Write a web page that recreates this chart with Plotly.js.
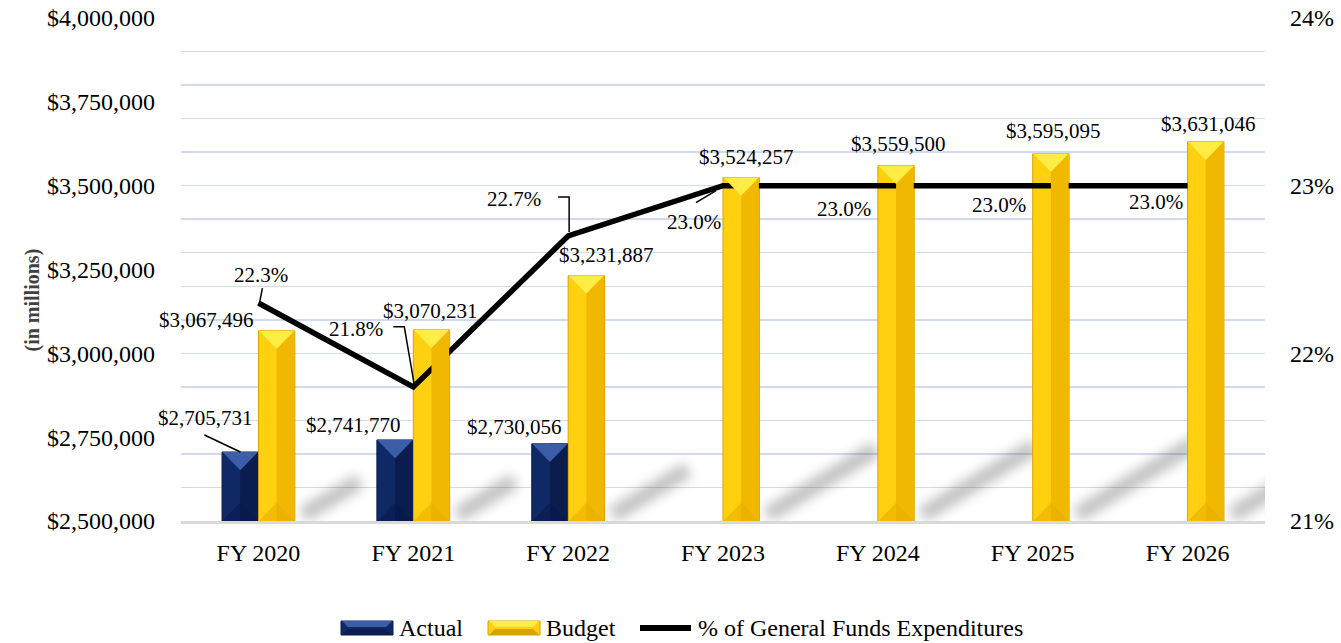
<!DOCTYPE html>
<html>
<head>
<meta charset="utf-8">
<script src="https://cdn.plot.ly/plotly-3.0.1.min.js"></script>
<style>
html,body{margin:0;padding:0;background:#fff;}
#chart{width:1341px;height:643px;}
</style>
</head>
<body>
<div id="chart"></div>
<script>
// ---- data ----
const categories = ['FY 2020', 'FY 2021', 'FY 2022', 'FY 2023', 'FY 2024', 'FY 2025', 'FY 2026'];
const actual = [2705731, 2741770, 2730056, null, null, null, null];
const budget = [3067496, 3070231, 3231887, 3524257, 3559500, 3595095, 3631046];
const pctGF = [22.3, 21.8, 22.7, 23.0, 23.0, 23.0, 23.0];
const seriesNames = ['Actual', 'Budget', '% of General Funds Expenditures'];
const yTitle = '(in millions)';

// ---- layout constants (styles / positions) ----
const L = 181, R = 76, T = 18, B = 122, WIDTH = 1341, HEIGHT = 643;
const plotW = WIDTH - L - R, plotH = HEIGHT - T - B;
const yMin = 2500000, yMax = 4000000;
const bargap = 0.53;
const catW = plotW / categories.length;
const bw = (1 - bargap) / 2 * catW;
const FONT = 'Liberation Serif';
const navy = '#0f2866', navyDark = '#0a1d4e', navyLight = '#3c5ea8';
const gold = '#ffd00f', goldDark = '#f0b800', goldLight = '#ffec45', goldEdge = '#d8a300';

// label offsets in pixels [xshift, yshift]
const budgetLabelOff = [[-52, 11], [17, 19], [38, 21], [23, 21], [21, 22], [21, 23], [21, 18]];
const actualLabelOff = [[-53, 34], [-60, 15], [-54, 17]];
const pctLabelOff = [[3, 28], [-57, 58], [-54, 37], [-29, -36], [-34, -23], [-34, -19], [-32, -16]];

const fmtMoney = v => '$' + Math.round(v).toLocaleString('en-US');
const fmtPct = v => v.toFixed(1) + '%';
const idx = categories.map((c, i) => i);
const pxH = v => (v - yMin) / (yMax - yMin) * plotH;

const traces = [
  {
    type: 'bar', name: seriesNames[0], x: categories, y: actual,
    marker: {color: navy, line: {color: navyDark, width: 1}},
    showlegend: false, hoverinfo: 'x+y'
  },
  {
    type: 'bar', name: seriesNames[1], x: categories, y: budget,
    marker: {color: gold, line: {color: goldEdge, width: 1}},
    showlegend: false, hoverinfo: 'x+y'
  },
  {
    type: 'scatter', mode: 'lines', name: seriesNames[2], x: categories, y: pctGF,
    yaxis: 'y2', line: {color: '#000', width: 5.5},
    showlegend: false, hoverinfo: 'x+y'
  }
];

const shapes = [];
const annotations = [];
const shadowIdx = new Set();

// bar shadows (decorative, blurred after render)
function addShadow(i, v, xStart) {
  const h = pxH(v);
  const dx = 0.34 * h, dy = 0.21 * h;
  shadowIdx.add(shapes.length);
  shapes.push({
    type: 'path', layer: 'between', xref: 'x', yref: 'y',
    xsizemode: 'pixel', ysizemode: 'pixel', xanchor: i, yanchor: yMin,
    path: `M${xStart + 8},6 L${xStart + dx},${dy}`,
    line: {color: 'rgba(0,0,0,0.24)', width: 16}
  });
}
idx.forEach(i => addShadow(i, budget[i], bw));

// bevels
function addBevel(i, v, x0, dark, light, bottom) {
  if (v == null) return;
  const x1 = x0 + bw, xc = x0 + bw / 2;
  shapes.push({
    type: 'rect', layer: 'above', xref: 'x', yref: 'y', xsizemode: 'pixel', xanchor: i,
    x0: xc, x1: x1 - 0.5, y0: yMin, y1: v, fillcolor: dark, line: {width: 0}
  });
  shapes.push({
    type: 'path', layer: 'above', xref: 'x', yref: 'y', xsizemode: 'pixel', ysizemode: 'pixel',
    xanchor: i, yanchor: v,
    path: `M${x0 + 0.5},0 L${x1 - 0.5},0 L${xc},${-bw / 2} Z`, fillcolor: light, line: {width: 0}
  });
  shapes.push({
    type: 'path', layer: 'above', xref: 'x', yref: 'y', xsizemode: 'pixel', ysizemode: 'pixel',
    xanchor: i, yanchor: yMin,
    path: `M${x0 + 0.5},0 L${x1 - 0.5},0 L${xc},${bw / 2} Z`, fillcolor: bottom, line: {width: 0}, opacity: 0.6
  });
}
idx.forEach(i => addBevel(i, actual[i], -bw, navyDark, navyLight, '#09184a'));
idx.forEach(i => addBevel(i, budget[i], 0, goldDark, goldLight, '#e8ad00'));

const lblFont = {family: FONT, size: 21, color: '#000'};
// budget labels
idx.forEach(i => {
  annotations.push({
    x: i, y: budget[i], xref: 'x', yref: 'y', text: fmtMoney(budget[i]), showarrow: false,
    xshift: budgetLabelOff[i][0], yshift: budgetLabelOff[i][1], font: lblFont
  });
});
// actual labels
idx.forEach(i => {
  if (actual[i] == null) return;
  annotations.push({
    x: i, y: actual[i], xref: 'x', yref: 'y', text: fmtMoney(actual[i]), showarrow: false,
    xshift: actualLabelOff[i][0], yshift: actualLabelOff[i][1], font: lblFont
  });
});
// pct labels
idx.forEach(i => {
  annotations.push({
    x: i, y: pctGF[i], xref: 'x', yref: 'y2', text: fmtPct(pctGF[i]), showarrow: false,
    xshift: pctLabelOff[i][0], yshift: pctLabelOff[i][1], font: lblFont
  });
});

// leader lines
const leader = (i, v, yref, path) => shapes.push({
  type: 'path', layer: 'above', xref: 'x', yref: yref, xsizemode: 'pixel', ysizemode: 'pixel',
  xanchor: i, yanchor: v, path: path, line: {color: '#000', width: 1.5}
});
leader(0, actual[0], 'y', 'M-54,17 L-18,0');
leader(0, pctGF[0], 'y2', 'M1,0 L4,15');
leader(1, pctGF[1], 'y2', 'M-20,60 L-9,60 L1,2');
leader(2, pctGF[2], 'y2', 'M-10,39 L1,39 L1,4');
leader(3, pctGF[3], 'y2', 'M-27,-17 L-7,-5');

// y-axis title
const px2x = px => (px - L) / plotW;
const px2y = py => (HEIGHT - B - py) / plotH;
annotations.push({
  xref: 'paper', yref: 'paper', x: px2x(18), y: px2y(300), text: '<b>' + yTitle + '</b>',
  textangle: -90, showarrow: false, font: {family: FONT, size: 20, color: '#404040'}
});

// custom legend
const legY = 628;
function swatchRect(x0, x1, fill, dark, light) {
  shapes.push({type: 'rect', xref: 'paper', yref: 'paper', x0: px2x(x0), x1: px2x(x1),
    y0: px2y(legY + 7), y1: px2y(legY - 7), fillcolor: fill, line: {color: dark, width: 1}});
  shapes.push({type: 'path', xref: 'paper', yref: 'paper', xsizemode: 'pixel', ysizemode: 'pixel',
    xanchor: px2x(x0), yanchor: px2y(legY - 7),
    path: `M1,0 L${x1 - x0 - 1},0 L${x1 - x0 - 7},-6 L7,-6 Z`, fillcolor: light, line: {width: 0}});
  shapes.push({type: 'path', xref: 'paper', yref: 'paper', xsizemode: 'pixel', ysizemode: 'pixel',
    xanchor: px2x(x0), yanchor: px2y(legY + 7),
    path: `M1,0 L${x1 - x0 - 1},0 L${x1 - x0 - 7},6 L7,6 Z`, fillcolor: dark, line: {width: 0}});
}
swatchRect(341, 393, navy, navyDark, navyLight);
swatchRect(488, 540, gold, goldEdge, goldLight);
shapes.push({type: 'line', xref: 'paper', yref: 'paper', x0: px2x(640), x1: px2x(691),
  y0: px2y(legY), y1: px2y(legY), line: {color: '#000', width: 6}});
[[seriesNames[0], 397], [seriesNames[1], 544], [seriesNames[2], 696]].forEach(([t, x]) => {
  annotations.push({xref: 'paper', yref: 'paper', x: px2x(x), y: px2y(legY), text: t,
    xanchor: 'left', yanchor: 'middle', showarrow: false, font: {family: FONT, size: 24, color: '#000'}});
});

const gridColor = '#d0dcee';
const tickFont = {family: FONT, size: 24, color: '#000'};
const layout = {
  width: WIDTH, height: HEIGHT,
  margin: {l: L, r: R, t: T, b: B, pad: 0},
  paper_bgcolor: '#fff', plot_bgcolor: '#fff',
  barmode: 'group', bargap: bargap, bargroupgap: 0,
  font: {family: FONT, size: 21, color: '#000'},
  showlegend: false,
  xaxis: {
    type: 'category', range: [-0.5, categories.length - 0.5], autorange: false,
    showgrid: false, zeroline: false,
    showline: true, linecolor: '#d9d9d9', linewidth: 3,
    ticks: '', ticklabelstandoff: 8,
    tickfont: tickFont, automargin: false
  },
  yaxis: {
    range: [yMin, yMax], autorange: false, dtick: 250000, tickformat: '$,.0f',
    showgrid: false, zeroline: false, showline: false, ticks: '',
    ticklabelstandoff: 25,
    tickfont: tickFont, automargin: false
  },
  yaxis2: {
    overlaying: 'y', side: 'right', range: [21, 24], autorange: false, dtick: 1, tick0: 21, ticksuffix: '%',
    showgrid: true, gridcolor: gridColor, gridwidth: 1.5,
    minor: {dtick: 0.2, tick0: 21, showgrid: true, gridcolor: gridColor, gridwidth: 1.5, ticks: ''},
    zeroline: false, showline: false, ticks: '', ticklabelstandoff: 24,
    tickfont: tickFont, automargin: false
  },
  shapes: shapes,
  annotations: annotations
};

Plotly.newPlot('chart', traces, layout, {displayModeBar: false, staticPlot: true}).then(gd => {
  const ns = 'http://www.w3.org/2000/svg';
  const svg = gd.querySelector('svg.main-svg');
  let defs = svg.querySelector('defs');
  if (!defs) { defs = document.createElementNS(ns, 'defs'); svg.insertBefore(defs, svg.firstChild); }
  const f = document.createElementNS(ns, 'filter');
  f.setAttribute('id', 'shadowBlur');
  f.setAttribute('x', '-50%'); f.setAttribute('y', '-50%');
  f.setAttribute('width', '200%'); f.setAttribute('height', '200%');
  const blur = document.createElementNS(ns, 'feGaussianBlur');
  blur.setAttribute('stdDeviation', '6');
  f.appendChild(blur);
  defs.appendChild(f);
  gd.querySelectorAll('path[data-index]').forEach(p => {
    if (shadowIdx.has(+p.getAttribute('data-index'))) p.setAttribute('filter', 'url(#shadowBlur)');
  });
});
</script>
</body>
</html>
